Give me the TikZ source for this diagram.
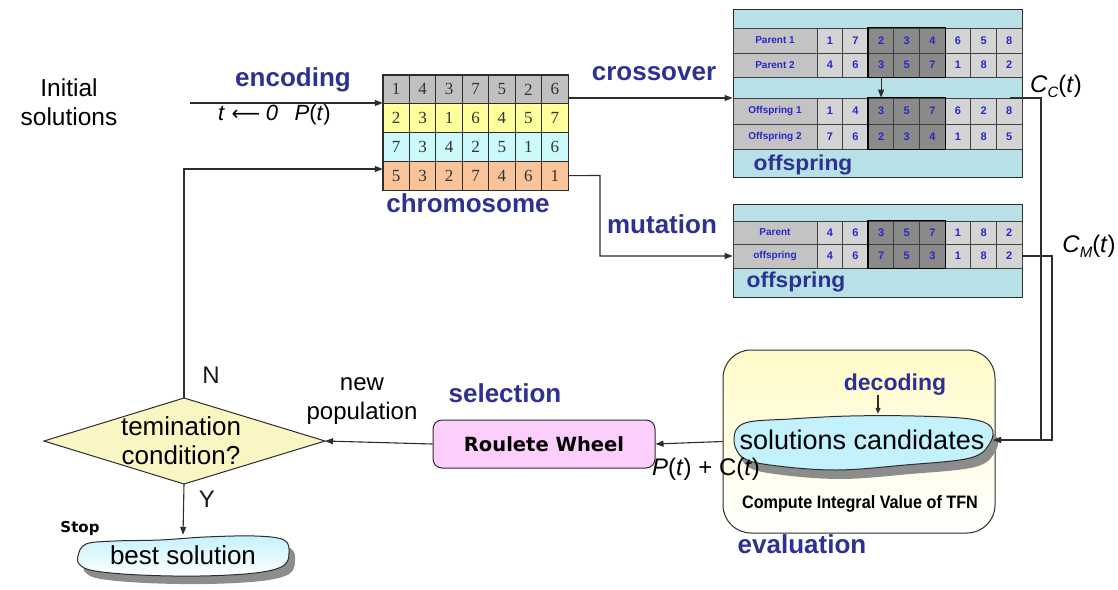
\documentclass[tikz,border=0pt]{standalone}
\usepackage{fontspec}
\setmainfont{Liberation Sans}
\newfontfamily\numserif{Liberation Serif}
\newfontfamily\djv{DejaVu Sans}
\usetikzlibrary{arrows.meta,calc,shapes.geometric}
\definecolor{lblue}{RGB}{46,49,146}
\definecolor{numblue}{RGB}{40,40,200}
\definecolor{linec}{RGB}{45,45,45}
\definecolor{boxcyan}{RGB}{183,225,230}
\definecolor{lightcell}{RGB}{212,212,212}
\definecolor{labcellc}{RGB}{195,195,195}
\definecolor{darkcell}{RGB}{138,138,138}
\definecolor{cgray}{RGB}{192,192,192}
\definecolor{cyellow}{RGB}{255,255,156}
\definecolor{ccyan}{RGB}{204,250,250}
\definecolor{corange}{RGB}{249,196,154}
\definecolor{diamfill}{RGB}{249,246,196}
\definecolor{pinkfill}{RGB}{251,206,251}
\definecolor{evaltop}{RGB}{255,251,200}
\definecolor{blobcyan}{RGB}{196,242,252}
\definecolor{shadowg}{RGB}{140,140,140}
\tikzset{
  conn/.style={draw=linec, line width=1.1pt, -{Triangle[length=8pt,width=6pt]}},
  plainline/.style={draw=linec, line width=1.1pt},
  bluelabel/.style={text=lblue, font=\fontsize{26}{30}\selectfont\bfseries, inner sep=0pt, anchor=base},
  offlabel/.style={text=lblue, font=\fontsize{21.5}{24}\selectfont\bfseries, inner sep=0pt, anchor=base},
  plaintext/.style={inner sep=0pt, anchor=base, font=\fontsize{24}{28}\selectfont, text=black!90},
  chromcell/.style={draw=linec, line width=0.8pt, minimum width=26.43, minimum height=28.75, inner sep=0pt,
    font=\numserif\fontsize{17}{17}\selectfont, text=black!80},
  labcell/.style={draw=black!75, line width=0.8pt, fill=labcellc, minimum width=84, inner sep=0pt,
    font=\bfseries\fontsize{10}{10}\selectfont, text=numblue},
  numcell/.style={draw=black!75, line width=0.8pt, minimum width=25.625, inner sep=0pt,
    font=\bfseries\fontsize{11}{11}\selectfont, text=numblue},
}
\newcommand{\garow}[5]{%
  \node[labcell, minimum height=#4] (#1-0) at (775,{#3+#4/2}) {#2};
  \foreach \v [count=\i] in {#5} {%
    \pgfmathtruncatemacro\isdark{(\i>2)*(\i<6)}%
    \ifnum\isdark=1 \def\cf{darkcell}\else\def\cf{lightcell}\fi
    \node[numcell, minimum height=#4, fill=\cf] (#1-\i) at ({817+25.625*(\i-0.5)},{#3+#4/2}) {\v};
  }%
}
\begin{document}
\begin{tikzpicture}[x=1pt,y=-1pt]
\useasboundingbox (0,0) rectangle (1118,589);
\fill[white] (0,0) rectangle (1118,589);

% ---------- initial solutions / encoding ----------
\node[align=center, inner sep=0pt, font=\fontsize{24.5}{29}\selectfont] (init) at (69,102) {Initial\\solutions};
\node[bluelabel] (enc) at (293,86) {encoding};
\node[inner sep=0pt, anchor=base west, font=\fontsize{22}{22}\selectfont] (tlab) at (218,120)
  {\textit{t}\hspace{0.3em}{\djv\fontsize{20}{20}\selectfont ⟵}\hspace{0.25em}\textit{0}\hspace{0.75em}\textit{P}(\textit{t})};

% ---------- chromosome ----------
\node[minimum width=185, minimum height=115, inner sep=0pt] (chrom) at (475.5,132.5) {};
\foreach \r/\c/\vals in {1/cgray/{1,4,3,7,5,2,6},2/cyellow/{2,3,1,6,4,5,7},3/ccyan/{7,3,4,2,5,1,6},4/corange/{5,3,2,7,4,6,1}}{
  \foreach \v [count=\i] in \vals {
    \node[chromcell, fill=\c] (c\r-\i) at ({383+26.43*(\i-0.5)},{75+28.75*(\r-0.5)}) {\v};
  }
}
\draw[linec, line width=1.2pt] (chrom.north west) rectangle (chrom.south east);
\node[bluelabel] (chromlab) at (468,212) {chromosome};

% ---------- crossover box ----------
\node[draw=linec, fill=boxcyan, line width=1pt, minimum width=289, minimum height=168, inner sep=0pt] (cross) at (877.5,93) {};
\garow{pa}{Parent 1}{28}{25}{1,7,2,3,4,6,5,8}
\garow{pb}{Parent 2}{53}{24}{4,6,3,5,7,1,8,2}
\garow{oa}{Offspring 1}{98}{26}{1,4,3,5,7,6,2,8}
\garow{ob}{Offspring 2}{124}{25}{7,6,2,3,4,1,8,5}
\draw[black, line width=1.6pt] (pa-3.north west) rectangle (pb-5.south east);
\draw[black, line width=1.6pt] (oa-3.north west) rectangle (ob-5.south east);
\draw[conn] (pb-3.south) -- (oa-3.north);
\node[offlabel] (offx) at (803,170) {\scalebox{1.06}[1]{offspring}};
\node[bluelabel] (xlab) at (654,80) {crossover};

% ---------- mutation box ----------
\node[draw=linec, fill=boxcyan, line width=1pt, minimum width=289, minimum height=93, inner sep=0pt] (mut) at (877.5,250.5) {};
\garow{mp}{Parent}{221}{23}{4,6,3,5,7,1,8,2}
\garow{mo}{offspring}{244}{24}{4,6,7,5,3,1,8,2}
\draw[black, line width=1.6pt] (mp-3.north west) rectangle (mo-5.south east);
\node[offlabel] (offm) at (796,287) {\scalebox{1.06}[1]{offspring}};
\node[bluelabel] (mlab) at (662,233) {mutation};

% ---------- evaluation ----------
\node[draw=linec, line width=1pt, rounded corners=28, top color=evaltop, bottom color=white,
  minimum width=272, minimum height=183, inner sep=0pt] (eval) at (859,441.5) {};
\fill[shadowg, xshift=5pt, yshift=-9pt] plot[smooth cycle, tension=0.6] coordinates
  {(734,438) (745,423) (790,419) (850,416) (915,416) (970,419) (991,427) (990,443) (970,458) (905,465) (835,470) (770,465) (742,457)};
\filldraw[fill=blobcyan, draw=linec, line width=1pt] plot[smooth cycle, tension=0.6] coordinates
  {(734,438) (745,423) (790,419) (850,416) (915,416) (970,419) (991,427) (990,443) (970,458) (905,465) (835,470) (770,465) (742,457)};
\node[inner sep=0pt, minimum width=262, minimum height=52, font=\fontsize{27}{27}\selectfont] (sc) at (862,440) {solutions candidates};
\node[bluelabel, font=\fontsize{23}{26}\selectfont\bfseries] (dec) at (895,390) {decoding};
\coordinate (decx) at (878,0);
\draw[draw=linec, line width=1.1pt, -{Triangle[length=6pt,width=5pt]}] (dec.south -| decx) -- (sc.north -| decx);
\node[inner sep=0pt, anchor=base, font=\bfseries\fontsize{18}{18}\selectfont] (tfn) at (860,508) {\scalebox{0.9}[1]{Compute Integral Value of TFN}};
\node[bluelabel] (evlab) at (802,553) {evaluation};

% ---------- C_C and C_M connectors ----------
\coordinate (ccs) at (1010,98);
\draw[conn] (ccs) -- (1041,98) -- (1041,440) -- (sc.east |- 0,440);
\draw[conn] (mo-8.east) -- (1052,256) -- (1052,440) -- (sc.east |- 0,440);
\node[inner sep=0pt, anchor=base, font=\fontsize{24}{24}\selectfont] (cclab) at (1056,92)
  {\textit{C}\raisebox{-5pt}{\fontsize{15}{15}\selectfont\textit{C}}(\textit{t})};
\node[inner sep=0pt, anchor=base, font=\fontsize{24}{24}\selectfont] (cmlab) at (1089,252)
  {\textit{C}\raisebox{-5pt}{\fontsize{15}{15}\selectfont\textit{M}}(\textit{t})};

% ---------- connectors from chromosome ----------
\coordinate (start) at (190,103);
\draw[conn] (start) -- (chrom.west |- start);
\draw[conn] (chrom.east |- 0,98) -- (cross.west |- 0,98);
\draw[conn] (c4-7.east) -- (600,175.5) -- (600,256) -- (mo-0.west);

% ---------- selection ----------
\node[draw=linec, fill=pinkfill, rounded corners=9, line width=1pt, minimum width=222, minimum height=48,
  inner sep=0pt, font=\djv\bfseries\fontsize{19.5}{19.5}\selectfont] (roul) at (544,444) {Roulete Wheel};
\node[bluelabel] (sellab) at (505,402) {selection};
\draw[conn] (eval.west) -- (roul.east);
\node[inner sep=0pt, anchor=base, font=\fontsize{24}{24}\selectfont] (pc) at (706,475) {\textit{P}(\textit{t}) + C(\textit{t})};

% ---------- termination ----------
\coordinate (dleft) at (44,441);
\coordinate (dtop) at (184,398);
\coordinate (dright) at (325,441);
\coordinate (dbot) at (184,484);
\filldraw[fill=diamfill, draw=linec, line width=1pt] (dleft) -- (dtop) -- (dright) -- (dbot) -- cycle;
\node[align=center, inner sep=0pt, font=\fontsize{26}{29}\selectfont] (term) at (181,441) {temination\\condition?};
\draw[conn] (roul.west) -- (dright);
\node[align=center, inner sep=0pt, font=\fontsize{24}{29}\selectfont] (newpop) at (362,401) {new\\population};
\draw[conn] (dtop) -- (184,169) -- (chrom.west |- 0,169);
\node[plaintext] (nlab) at (211,383) {N};
\node[plaintext] (ylab) at (207,507) {Y};

% ---------- best solution ----------
\fill[shadowg, xshift=6pt, yshift=-8pt] plot[smooth cycle, tension=0.6] coordinates
  {(78,556) (86,544) (115,541) (160,540) (205,537) (255,536) (284,540) (289,553) (283,566) (255,573) (200,576) (140,575) (95,571) (80,565)};
\path[draw=linec, line width=1pt, top color=blobcyan, bottom color=white] plot[smooth cycle, tension=0.6] coordinates
  {(78,556) (86,544) (115,541) (160,540) (205,537) (255,536) (284,540) (289,553) (283,566) (255,573) (200,576) (140,575) (95,571) (80,565)};
\node[minimum width=210, minimum height=40, inner sep=0pt, font=\fontsize{26}{26}\selectfont] (best) at (183,555) {best solution};
\draw[conn] (dbot) -- (best.north);
\node[inner sep=0pt, anchor=base, font=\djv\bfseries\fontsize{15}{15}\selectfont] (stop) at (80,532) {Stop};
\end{tikzpicture}
\end{document}
